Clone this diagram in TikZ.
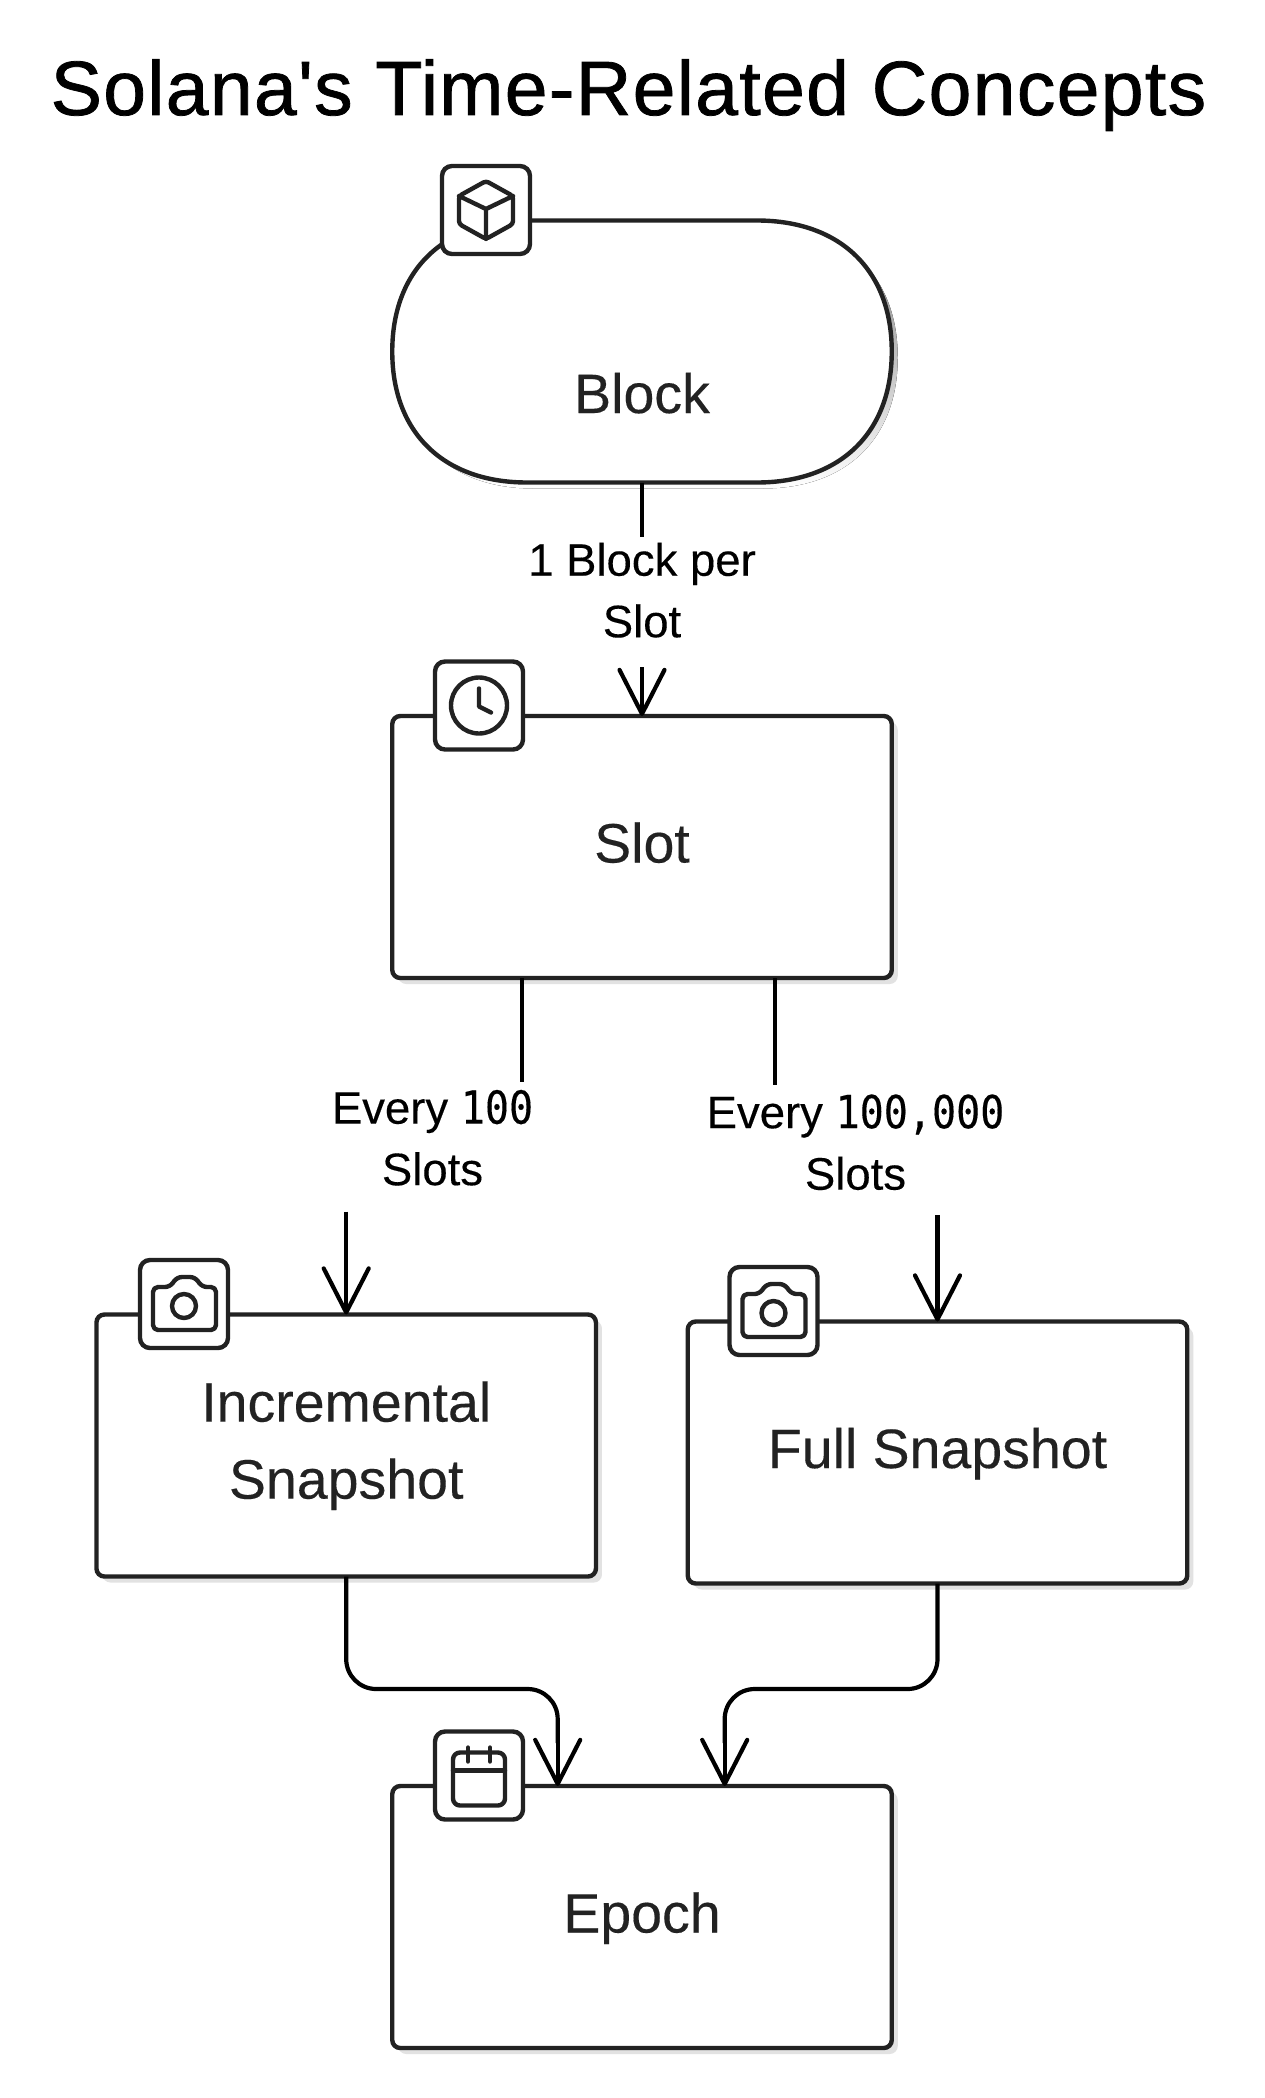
\documentclass[tikz,border=0pt]{standalone}
\usepackage{fontspec}
\setmainfont[FakeBold=0.25]{Liberation Sans}
\newfontfamily\digs[FakeStretch=0.88,FakeBold=0.25]{DejaVu Sans Mono}
\newfontfamily\ttlfont[LetterSpace=1.7,FakeBold=1]{Liberation Sans}
\usetikzlibrary{arrows.meta,shadows}
\definecolor{ink}{HTML}{222222}
\definecolor{shade}{HTML}{E2E2E2}
\tikzset{
  x=1pt,y=-1pt,
  boxbase/.style={minimum width=499.5pt,minimum height=262pt,
    inner sep=0pt,outer sep=0pt,text=ink,align=center,
    font=\fontsize{55.5}{77}\selectfont},
  box/.style={boxbase,draw=ink,fill=white,line width=4.4pt,rounded corners=8pt,
    copy shadow={shadow xshift=6pt,shadow yshift=-6pt,draw=none,fill=shade}},
  iconbox/.style={draw=ink,fill=white,line width=4.4pt,minimum width=88pt,minimum height=88pt,
    inner sep=0pt,outer sep=0pt,rounded corners=10pt},
  glyph/.style={draw=ink,line width=4.4pt,line join=round,line cap=round},
  edgetext/.style={inner sep=0pt,outer sep=0pt,align=center,text=black,minimum height=130pt,
    text depth=16pt,font=\fontsize{45.5}{61.5}\selectfont},
  conn/.style={draw=black,line width=4.2pt},
  arr/.style={conn,-{Straight Barb[length=44pt,width=45pt,line width=4.2pt,round]}},
  title/.style={inner sep=0pt,text=black,font=\ttlfont\fontsize{77}{80}\selectfont}
}
\def\blockpath{(756.75,220.5) .. controls (840.5,220.5) and (891.75,270.3) .. (891.75,351.5)
  .. controls (891.75,432.7) and (840.5,482.5) .. (756.75,482.5) -- (527.25,482.5)
  .. controls (443.5,482.5) and (392.25,432.7) .. (392.25,351.5)
  .. controls (392.25,270.3) and (443.5,220.5) .. (527.25,220.5) -- cycle}
\begin{document}
\begin{tikzpicture}
\useasboundingbox (0,0) rectangle (1265,2098);
\fill[white] (0,0) rectangle (1265,2098);
\node[title,anchor=base] (ttl) at (628.5,115) {Solana's Time-Related Concepts};

% boxes
\fill[shade,shift={(6,6)}] \blockpath;
\draw[ink,fill=white,line width=4.4pt] \blockpath;
\node[boxbase,text height=123pt,text depth=0pt] (block) at (642,351.5) {Block};
\node[box,text height=31pt,text depth=0pt] (slot) at (642,847) {Slot};
\node[box,text depth=11pt] (inc) at (346.2,1445.5) {Incremental\\Snapshot};
\node[box,text height=31pt,text depth=0pt] (full) at (937.5,1452.5) {Full Snapshot};
\node[box,text height=31pt,text depth=0pt] (epoch) at (642,1917) {Epoch};

% edge labels
\node[edgetext,text depth=24pt] (l1) at (642,602) {1 Block per\\Slot};
\node[edgetext,text depth=18pt] (l2) at (432.5,1146.5) {Every {\digs 100}\\Slots};
\node[edgetext] (l3) at (855.5,1150) {Every {\digs 100,000}\\Slots};

% connector anchors
\coordinate (s1) at (521.7,978);
\coordinate (s2) at (774.7,978);
\coordinate (e1) at (557.7,1786);
\coordinate (e2) at (724.7,1786);
\coordinate (m1) at (346.2,1689);
\coordinate (m2) at (937.5,1689);

\draw[conn] (block.south) -- (l1.north);
\draw[arr] (l1.south) -- (slot.north);
\draw[conn] (s1) -- (s1 |- l2.north);
\draw[conn] (s2) -- (s2 |- l3.north);
\draw[arr] (inc.north |- l2.south) -- (inc.north);
\draw[arr] (full.north |- l3.south) -- (full.north);
\draw[conn] (inc.south) -- ([yshift=30pt]m1) to[out=-90,in=180] ([xshift=30pt]m1) -- ([xshift=-30pt]m1 -| e1) to[out=0,in=90] ([yshift=-30pt]m1 -| e1) -- ([yshift=43pt]e1);
\draw[arr] ([yshift=44pt]e1) -- (e1);
\draw[conn] (full.south) -- ([yshift=30pt]m2) to[out=-90,in=0] ([xshift=-30pt]m2) -- ([xshift=30pt]m2 -| e2) to[out=180,in=90] ([yshift=-30pt]m2 -| e2) -- ([yshift=43pt]e2);
\draw[arr] ([yshift=44pt]e2) -- (e2);

% block icon
\node[iconbox] (iB) at (486,210) {};
\begin{scope}[shift={(iB.center)}]
  \path[glyph,rounded corners=3pt] (0,-29) -- (27,-14) -- (27,14) -- (0,29) -- (-27,14) -- (-27,-14) -- cycle;
  \path[glyph] (-27,-14) -- (0,-1) -- (27,-14) (0,-1) -- (0,29);
\end{scope}

% slot icon
\node[iconbox] (iS) at (479,705.5) {};
\begin{scope}[shift={(iS.center)}]
  \path[glyph] (0,0) circle[radius=28];
  \path[glyph] (0,-17) -- (0,1) -- (12,7);
\end{scope}

% camera icons
\node[iconbox] (iI) at (184,1304) {};
\node[iconbox] (iF) at (773.5,1311) {};
\foreach \ic in {iI,iF}{
\begin{scope}[shift={(\ic.center)}]
  \path[glyph,rounded corners=5pt] (-31,-17) -- (-14,-17) -- (-7,-27) -- (11,-27) -- (18,-17) -- (32,-17) -- (32,26) -- (-31,26) -- cycle;
  \path[glyph] (0,2) circle[radius=12];
\end{scope}}

% epoch icon
\node[iconbox] (iE) at (479,1775.5) {};
\begin{scope}[shift={(iE.center)}]
  \path[glyph,rounded corners=7pt] (-26,-23) rectangle (26,30);
  \path[glyph] (-26,-5) -- (26,-5) (-11,-28) -- (-11,-14) (11,-28) -- (11,-14);
\end{scope}
\end{tikzpicture}
\end{document}
